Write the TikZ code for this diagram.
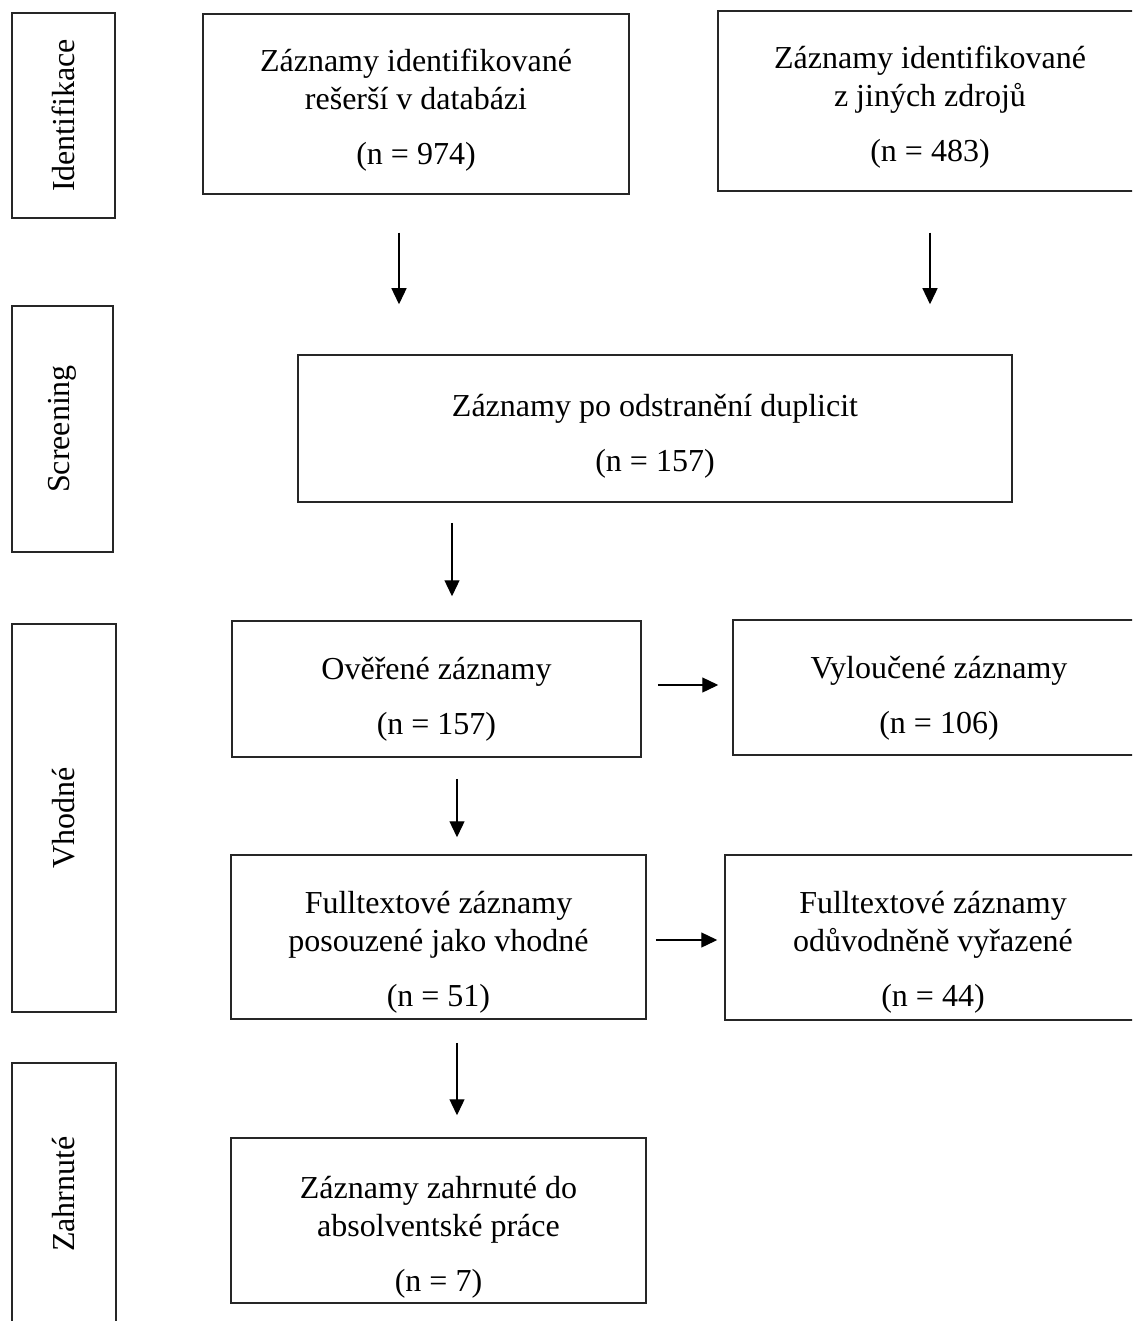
\documentclass[tikz,border=0pt]{standalone}
\usepackage{fontspec}
\setmainfont{Liberation Serif}
\usetikzlibrary{arrows.meta, calc}
\newcommand{\boxdrop}[1]{\rule{0pt}{#1}}

\begin{document}
\begin{tikzpicture}[
    x=1pt, y=-1pt,
    every node/.style={font=\fontsize{32}{38}\selectfont},
    record/.style={rectangle, draw=black!85, line width=1.5pt, align=center, inner sep=0pt},
    phase/.style={rectangle, draw=black!85, line width=1.5pt, rotate=90, inner sep=0pt},
    arrow/.style={line width=1.3pt, -{Triangle[length=16pt, width=15pt]}}
]
\clip (0,0) rectangle (1132,1321);

% Phases
\node[phase, minimum width=205pt, minimum height=103pt] (identif) at (63.5,115.5) {Identifikace};
\node[phase, minimum width=246pt, minimum height=101pt] (screen) at (62.5,429) {Screening};
\node[phase, minimum width=388pt, minimum height=104pt] (eligible) at (64,818) {Vhodné};
\node[phase, minimum width=262pt, minimum height=104pt] (incl) at (64,1194) {Zahrnuté};

% Identification
\node[record, minimum width=426pt, minimum height=180pt] (dbrec) at (416,104)
    {\boxdrop{35pt}Záznamy identifikované\\rešerší v databázi\\[17pt](n = 974)};
\node[record, minimum width=424pt, minimum height=180pt] (otherrec) at (930,101)
    {\boxdrop{34pt}Záznamy identifikované\\z jiných zdrojů\\[17pt](n = 483)};

% Screening
\node[record, minimum width=714pt, minimum height=147pt] (dedup) at (655,428.5)
    {\boxdrop{37pt}Záznamy po odstranění duplicit\\[17pt](n = 157)};

% Eligibility
\node[record, minimum width=409pt, minimum height=136pt] (checked) at (436.5,689)
    {\boxdrop{42pt}Ověřené záznamy\\[17pt](n = 157)};
\node[record, minimum width=412pt, minimum height=135pt] (excluded) at (939,687.5)
    {\boxdrop{43pt}Vyloučené záznamy\\[17pt](n = 106)};
\node[record, minimum width=415pt, minimum height=164pt] (fulltext) at (438.5,937)
    {\boxdrop{52pt}Fulltextové záznamy\\posouzené jako vhodné\\[17pt](n = 51)};
\node[record, minimum width=416pt, minimum height=165pt] (ftexcl) at (933,937.5)
    {\boxdrop{51pt}Fulltextové záznamy\\odůvodněně vyřazené\\[17pt](n = 44)};

% Included
\node[record, minimum width=415pt, minimum height=165pt] (final) at (438.5,1220.5)
    {\boxdrop{55pt}Záznamy zahrnuté do\\absolventské práce\\[17pt](n = 7)};

% Arrows
\draw[arrow] ($(dbrec.south)+(-17,38)$) -- ($(dedup.north)+(-256,-50)$);
\draw[arrow] ($(otherrec.south)+(0,41)$) -- ($(dedup.north)+(275,-50)$);
\draw[arrow] ($(dedup.south)+(-203,20)$) -- ($(checked.north)+(15.5,-24)$);
\draw[arrow] ($(checked.east)+(16,-4)$) -- ($(excluded.west)+(-14,-2.5)$);
\draw[arrow] ($(checked.south)+(20.5,21)$) -- ($(fulltext.north)+(18.5,-17)$);
\draw[arrow] ($(fulltext.east)+(9,3)$) -- ($(ftexcl.west)+(-7,2.5)$);
\draw[arrow] ($(fulltext.south)+(18.5,23)$) -- ($(final.north)+(18.5,-22)$);

\end{tikzpicture}
\end{document}
